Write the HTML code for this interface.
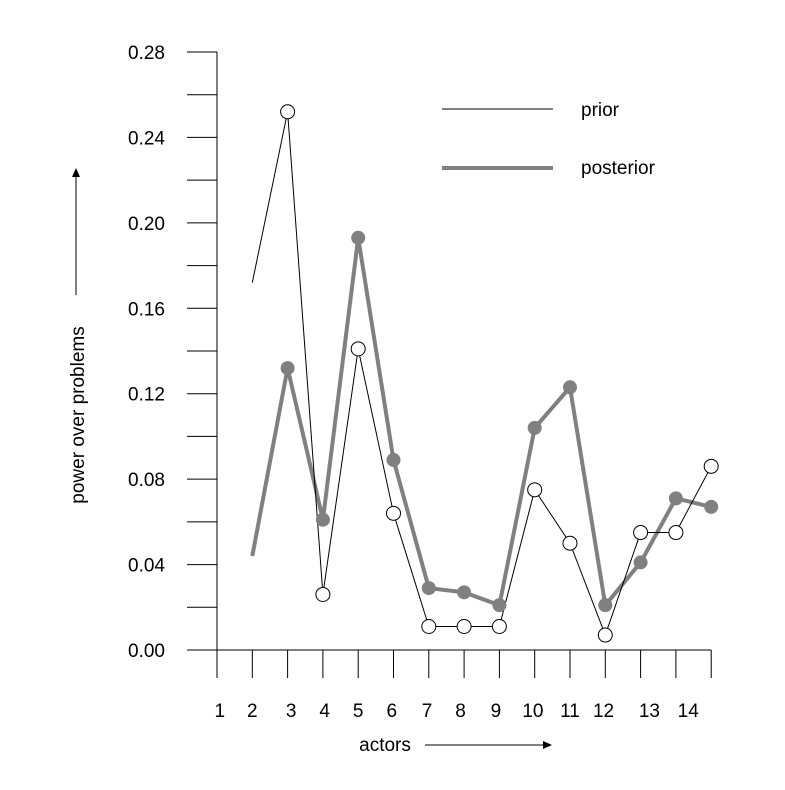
<!DOCTYPE html>
<html><head><meta charset="utf-8"><style>
html,body{margin:0;padding:0;background:#fff;}
svg{display:block;font-family:"Liberation Sans",Arial,sans-serif;}
</style></head><body>
<svg id="chart" width="785" height="790" viewBox="0 0 785 790"></svg>
<script>
const yTicks=[0,0.04,0.08,0.12,0.16,0.20,0.24,0.28];
const yTickLabels=["0.00","0.04","0.08","0.12","0.16","0.20","0.24","0.28"];
const xLabels=["1","2","3","4","5","6","7","8","9","10","11","12","13","14"];
const xLabelIdx=[0.08,1,2.1,3.05,4,4.95,5.95,6.9,7.9,8.95,10,10.95,12.25,13.35];
const priorIdx=[1,2,3,4,5,6,7,8,9,10,11,12,13,14];
const priorVals=[0.172,0.252,0.026,0.141,0.064,0.011,0.011,0.011,0.075,0.050,0.007,0.055,0.055,0.086];
const postVals=[0.044,0.132,0.061,0.193,0.089,0.029,0.027,0.021,0.104,0.123,0.021,0.041,0.071,0.067];
const NS="http://www.w3.org/2000/svg";
const svg=document.getElementById('chart');
const X0=217,DX=35.3,Y0=650,Y1=52;
const xs=i=>X0+DX*i;
const ys=v=>Y0-(v/0.28)*(Y0-Y1);
function mk(t,a){const e=document.createElementNS(NS,t);for(const k in a)e.setAttribute(k,a[k]);svg.appendChild(e);return e;}
let e;
e=mk('line',{x1:X0,y1:Y1,x2:X0,y2:Y0,stroke:'#000','stroke-width':1});


e=mk('line',{x1:187,y1:Y0,x2:xs(14),y2:Y0,stroke:'#000','stroke-width':1});


for(let k=0;k<=14;k++){const v=k*0.02;
 e=mk('line',{x1:187,y1:ys(v),x2:X0,y2:ys(v),stroke:'#000','stroke-width':1});
 
 }
yTicks.forEach((v,i)=>{e=mk('text',{x:165,y:ys(v)+7,'text-anchor':'end','font-size':19});e.textContent=yTickLabels[i];
 
 });
for(let i=0;i<=14;i++){e=mk('line',{x1:xs(i),y1:Y0,x2:xs(i),y2:678,stroke:'#000','stroke-width':1});
 
 }
xLabels.forEach((l,i)=>{e=mk('text',{x:xs(xLabelIdx[i]),y:717,'text-anchor':'middle','font-size':19});e.textContent=l;
 
 });
e=mk('text',{x:385,y:751,'text-anchor':'middle','font-size':19});e.textContent='actors';


e=mk('line',{x1:425,y1:745,x2:545,y2:745,stroke:'#000','stroke-width':1});


mk('polygon',{points:'552,745 543,741 543,749',fill:'#000'});
e=mk('text',{x:0,y:0,'text-anchor':'middle','font-size':19,transform:'translate(84,415) rotate(-90)'});e.textContent='power over problems';


e=mk('line',{x1:76,y1:295,x2:76,y2:176,stroke:'#000','stroke-width':1});


mk('polygon',{points:'76,168 72,177 80,177',fill:'#000'});
// posterior
e=mk('polyline',{points:postVals.map((v,i)=>xs(priorIdx[i])+','+ys(v)).join(' '),fill:'none',stroke:'#808080','stroke-width':4});


// prior
e=mk('polyline',{points:priorVals.map((v,i)=>xs(priorIdx[i])+','+ys(v)).join(' '),fill:'none',stroke:'#000','stroke-width':1});


postVals.forEach((v,i)=>{if(i===0)return;e=mk('circle',{cx:xs(priorIdx[i]),cy:ys(v),r:7,fill:'#808080'});
 
 });
priorVals.forEach((v,i)=>{if(i===0)return;e=mk('circle',{cx:xs(priorIdx[i]),cy:ys(v),r:7,fill:'#fff',stroke:'#000','stroke-width':1});
 
 });
// legend
e=mk('line',{x1:442,y1:109,x2:553,y2:109,stroke:'#000','stroke-width':1});


e=mk('text',{x:581,y:116,'font-size':19});e.textContent='prior';


e=mk('line',{x1:442,y1:168,x2:553,y2:168,stroke:'#808080','stroke-width':4});


e=mk('text',{x:581,y:174,'font-size':19});e.textContent='posterior';


</script>
</body></html>
